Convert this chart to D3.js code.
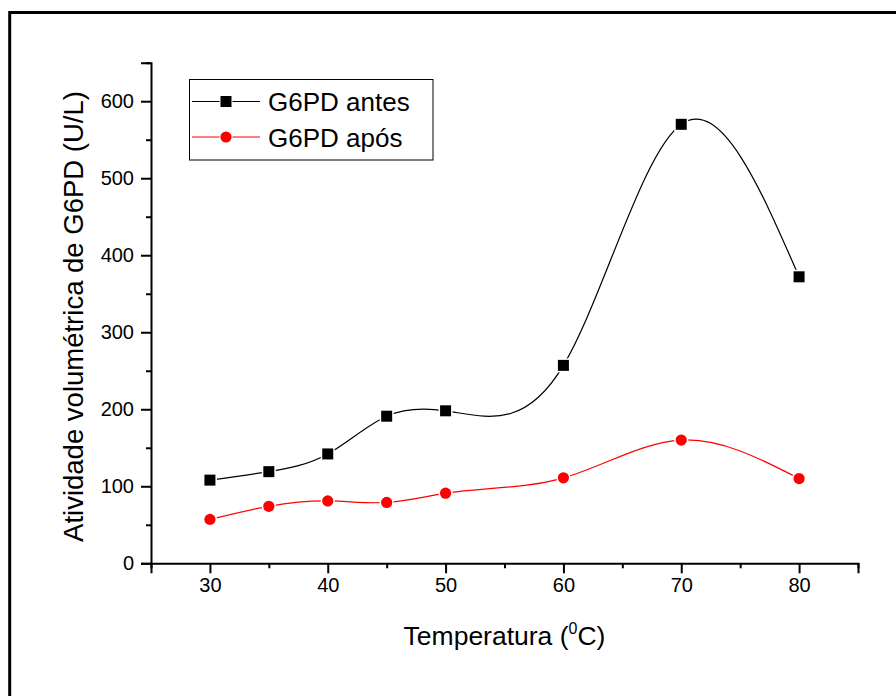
<!DOCTYPE html>
<html>
<head>
<meta charset="utf-8">
<script src="https://cdn.jsdelivr.net/npm/d3@7"></script>
<style>
  html, body { margin: 0; padding: 0; background: #fff; }
  svg { display: block; }
  text { font-family: "Liberation Sans", Arial, sans-serif; fill: #000; }
</style>
</head>
<body>
<svg id="chart" width="896" height="696"></svg>
<script>
// ---- data ----
const temperatures = [30, 35, 40, 45, 50, 60, 70, 80];
const antes = [108, 119, 142, 191, 198, 257, 570, 372];
const apos  = [57, 74, 81, 79, 91, 111, 160, 110];
const seriesNames = ["G6PD antes", "G6PD após"];
const xTicksMajor = [30, 40, 50, 60, 70, 80];
const yTicksMajor = [0, 100, 200, 300, 400, 500, 600];

// ---- layout ----
const svg = d3.select("#chart");
const plot = { left: 151, right: 858, top: 62.7, bottom: 563.3 };
const x = d3.scaleLinear().domain([25, 85]).range([plot.left, plot.right]);
const y = d3.scaleLinear().domain([0, 650]).range([plot.bottom, plot.top]);

// outer frame (extends beyond right/bottom)
svg.append("rect")
  .attr("x", 9.7).attr("y", 12.5)
  .attr("width", 1000).attr("height", 1000)
  .attr("fill", "none").attr("stroke", "#000").attr("stroke-width", 3);

// custom curve: natural cubic spline y(x)
function SplineX(context) { this._context = context; }
SplineX.prototype = {
  areaStart() { this._line = 0; },
  areaEnd() { this._line = NaN; },
  lineStart() { this._xs = []; this._ys = []; },
  point(px, py) { this._xs.push(+px); this._ys.push(+py); },
  lineEnd() {
    const X = this._xs, Y = this._ys, n = X.length, c = this._context;
    if (!n) return;
    c.moveTo(X[0], Y[0]);
    if (n < 3) { for (let i = 1; i < n; i++) c.lineTo(X[i], Y[i]); return; }
    const h = [], M = new Array(n).fill(0);
    for (let i = 0; i < n - 1; i++) h.push(X[i + 1] - X[i]);
    const m = n - 2, a = [], b = [], cc = [], d = [];
    for (let i = 1; i <= m; i++) {
      a.push(h[i - 1]);
      b.push(2 * (h[i - 1] + h[i]));
      cc.push(h[i]);
      d.push(6 * ((Y[i + 1] - Y[i]) / h[i] - (Y[i] - Y[i - 1]) / h[i - 1]));
    }
    for (let i = 1; i < m; i++) {
      const w = a[i] / b[i - 1];
      b[i] -= w * cc[i - 1];
      d[i] -= w * d[i - 1];
    }
    const sol = new Array(m);
    sol[m - 1] = d[m - 1] / b[m - 1];
    for (let i = m - 2; i >= 0; i--) sol[i] = (d[i] - cc[i] * sol[i + 1]) / b[i];
    for (let i = 0; i < m; i++) M[i + 1] = sol[i];
    for (let i = 0; i < n - 1; i++) {
      const hi = h[i], s = (Y[i + 1] - Y[i]) / hi;
      const d0 = s - hi * (2 * M[i] + M[i + 1]) / 6;
      const d1 = s + hi * (M[i] + 2 * M[i + 1]) / 6;
      c.bezierCurveTo(X[i] + hi / 3, Y[i] + hi / 3 * d0,
                      X[i + 1] - hi / 3, Y[i + 1] - hi / 3 * d1,
                      X[i + 1], Y[i + 1]);
    }
  }
};
const splineX = (context) => new SplineX(context);

// ---- axes ----
const xMinor = d3.range(25, 86, 5).filter(v => !xTicksMajor.includes(v));
const yMinor = d3.range(50, 651, 100);

const gx = svg.append("g").attr("transform", `translate(0,${plot.bottom})`);
gx.call(d3.axisBottom(x).tickValues(xTicksMajor).tickSize(10).tickPadding(5).tickFormat(d3.format("d")));
const gxm = svg.append("g").attr("transform", `translate(0,${plot.bottom})`);
gxm.call(d3.axisBottom(x).tickValues(xMinor).tickSize(5).tickFormat(""));

const gy = svg.append("g").attr("transform", `translate(${plot.left},0)`);
gy.call(d3.axisLeft(y).tickValues(yTicksMajor).tickSize(10).tickPadding(7).tickFormat(d3.format("d")));
const gym = svg.append("g").attr("transform", `translate(${plot.left},0)`);
gym.call(d3.axisLeft(y).tickValues(yMinor).tickSize(5).tickFormat(""));

[gx, gxm, gy, gym].forEach(g => {
  g.select(".domain").attr("stroke", "#000").attr("stroke-width", 2);
  g.selectAll(".tick line").attr("stroke", "#000").attr("stroke-width", 2);
  g.selectAll(".tick text").attr("font-family", '"Liberation Sans", Arial, sans-serif')
    .attr("font-size", 20).attr("fill", "#000");
});
gym.select(".domain").remove();
gxm.select(".domain").remove();

// ---- axis titles ----
svg.append("text")
  .attr("x", (plot.left + plot.right) / 2).attr("y", 645)
  .attr("text-anchor", "middle").attr("font-size", 26.5)
  .call(t => {
    t.append("tspan").text("Temperatura (");
    t.append("tspan").attr("font-size", 16).attr("dy", -11).text("0");
    t.append("tspan").attr("dy", 11).text("C)");
  });

svg.append("text")
  .attr("transform", `translate(83,316.5) rotate(-90)`)
  .attr("text-anchor", "middle").attr("font-size", 27.5)
  .text("Atividade volumétrica de G6PD (U/L)");

// ---- series ----
const line = d3.line().x(d => x(d[0])).y(d => y(d[1])).curve(splineX);
const dataA = temperatures.map((t, i) => [t, antes[i]]);
const dataB = temperatures.map((t, i) => [t, apos[i]]);

svg.append("path").datum(dataA).attr("d", line)
  .attr("fill", "none").attr("stroke", "#000").attr("stroke-width", 1.2);
svg.append("path").datum(dataB).attr("d", line)
  .attr("fill", "none").attr("stroke", "#ff0000").attr("stroke-width", 1.2);

const sq = 11, r = 5.6;
svg.append("g").selectAll("rect").data(dataA).join("rect")
  .attr("x", d => x(d[0]) - sq / 2).attr("y", d => y(d[1]) - sq / 2)
  .attr("width", sq).attr("height", sq)
  .attr("fill", "#000").attr("stroke", "#fff").attr("stroke-width", 3)
  .attr("paint-order", "stroke");
svg.append("g").selectAll("circle").data(dataB).join("circle")
  .attr("cx", d => x(d[0])).attr("cy", d => y(d[1])).attr("r", r)
  .attr("fill", "#ff0000").attr("stroke", "#fff").attr("stroke-width", 3)
  .attr("paint-order", "stroke");

// ---- legend ----
const lg = svg.append("g");
lg.append("rect").attr("x", 189.5).attr("y", 79.5).attr("width", 243.5).attr("height", 80.5)
  .attr("fill", "#fff").attr("stroke", "#000").attr("stroke-width", 1);
const legendY = [101.5, 137];
const legendColors = ["#000", "#ff0000"];
seriesNames.forEach((name, i) => {
  const ly = legendY[i];
  lg.append("line").attr("x1", 192).attr("x2", 260).attr("y1", ly).attr("y2", ly)
    .attr("stroke", legendColors[i]).attr("stroke-width", 1);
  if (i === 0) {
    lg.append("rect").attr("x", 226 - sq / 2).attr("y", ly - sq / 2).attr("width", sq).attr("height", sq)
      .attr("fill", "#000").attr("stroke", "#fff").attr("stroke-width", 2).attr("paint-order", "stroke");
  } else {
    lg.append("circle").attr("cx", 226).attr("cy", ly).attr("r", r)
      .attr("fill", "#ff0000").attr("stroke", "#fff").attr("stroke-width", 2).attr("paint-order", "stroke");
  }
  lg.append("text").attr("x", 268).attr("y", ly + 9.5).attr("font-size", 26).text(name);
});
</script>
</body>
</html>
